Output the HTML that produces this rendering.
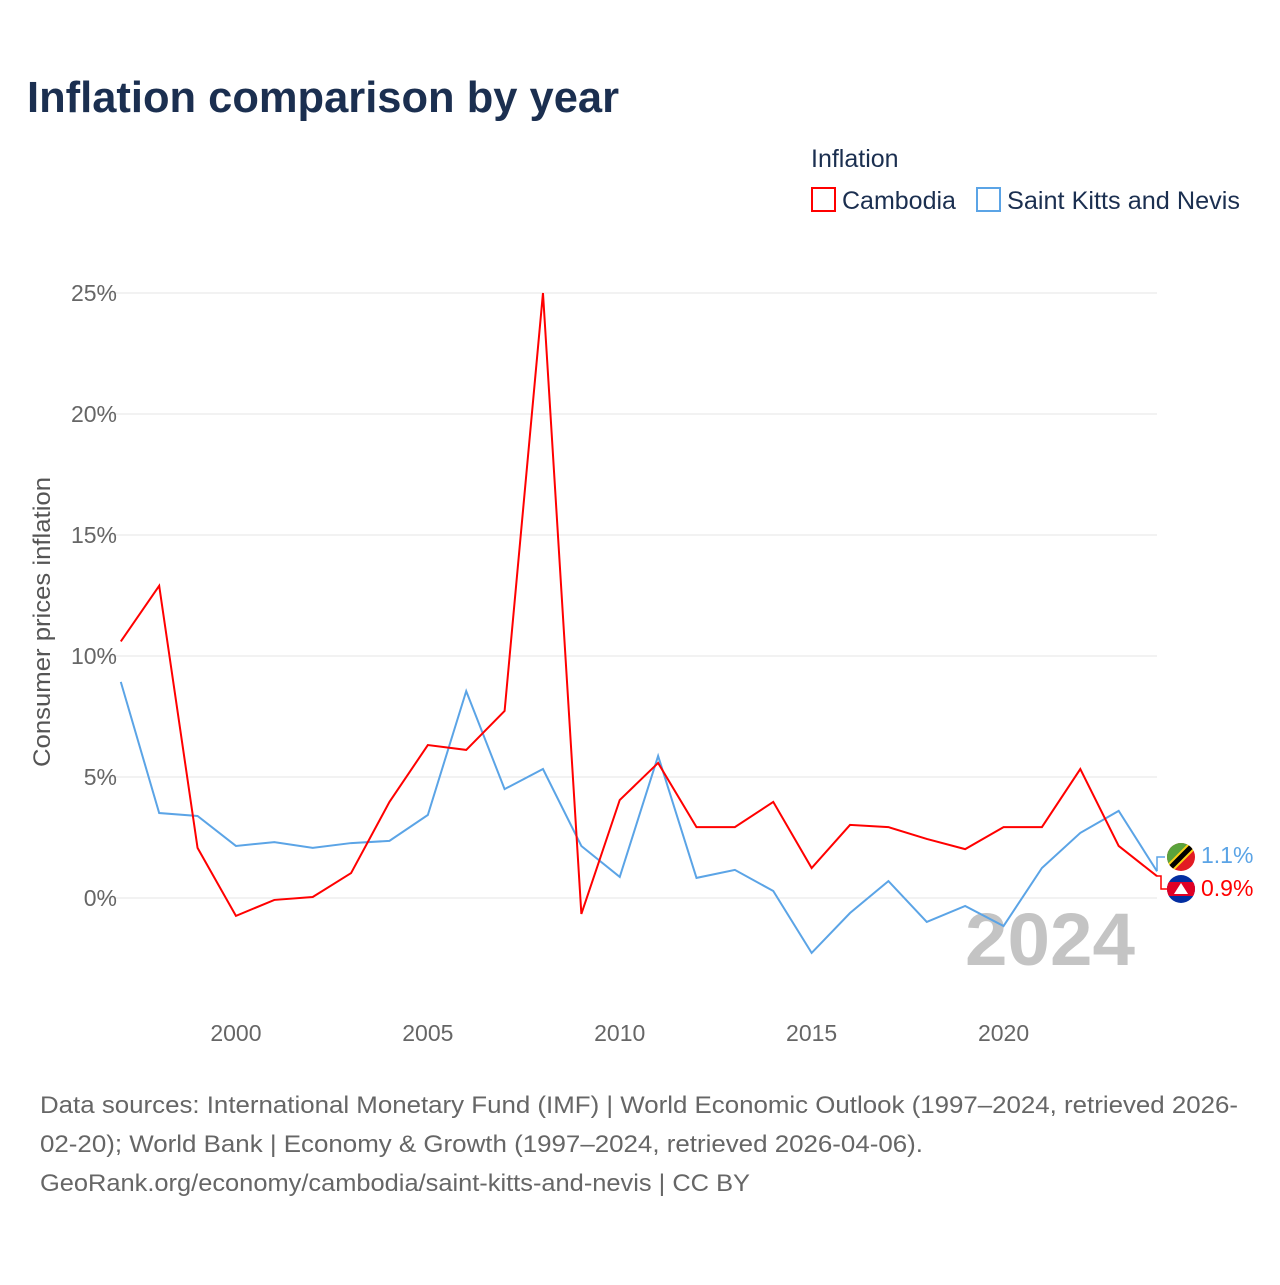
<!DOCTYPE html>
<html><head><meta charset="utf-8"><style>
body{margin:0;background:#fff;font-family:"Liberation Sans",sans-serif}
svg text{font-family:"Liberation Sans",sans-serif}
</style></head><body>
<svg width="1280" height="1280" viewBox="0 0 1280 1280" xmlns="http://www.w3.org/2000/svg">
<rect width="1280" height="1280" fill="#fff"/>
<text x="27" y="112" font-size="44" font-weight="bold" fill="#1b2f50" textLength="592" lengthAdjust="spacingAndGlyphs">Inflation comparison by year</text>
<text x="811" y="167" font-size="25" fill="#1b2f50">Inflation</text>
<g><rect x="812" y="188" width="23" height="23" fill="none" stroke="#f00" stroke-width="2"/><text x="842" y="209" font-size="25" fill="#1b2f50">Cambodia</text></g>
<g><rect x="977" y="188" width="23" height="23" fill="none" stroke="#5ba4e6" stroke-width="2"/><text x="1007" y="209" font-size="25" fill="#1b2f50" textLength="233" lengthAdjust="spacingAndGlyphs">Saint Kitts and Nevis</text></g>
<g id="grid"></g><g id="axes"></g>
<text transform="translate(50,622) rotate(-90)" text-anchor="middle" font-size="24" fill="#555" textLength="290" lengthAdjust="spacingAndGlyphs">Consumer prices inflation</text>
<text x="1135" y="965" text-anchor="end" font-size="74" font-weight="bold" fill="#c4c4c4" textLength="170" lengthAdjust="spacingAndGlyphs">2024</text>
<g id="series"></g>
<g>
<polyline points="1157,871 1157,857 1165,857" fill="none" stroke="#5ba4e6" stroke-width="1.5"/>
<polyline points="1157,876 1161,876 1161,889 1167,889" fill="none" stroke="#f00" stroke-width="1.5"/>
<g><clipPath id="c1"><circle cx="1181" cy="857" r="14"/></clipPath><g clip-path="url(#c1)"><rect x="1167" y="843" width="28" height="28" fill="#e21b23"/><polygon points="1167,843 1195,843 1167,871" fill="#5aa33c"/><line x1="1167" y1="871" x2="1195" y2="843" stroke="#fcd116" stroke-width="9"/><line x1="1167" y1="871" x2="1195" y2="843" stroke="#000" stroke-width="5"/></g></g>
<g><clipPath id="c2"><circle cx="1181" cy="889" r="14"/></clipPath><g clip-path="url(#c2)"><rect x="1167" y="875" width="28" height="28" fill="#032ea1"/><rect x="1167" y="882" width="28" height="14" fill="#e00025"/><polygon points="1174,894 1181,883 1188,894" fill="#fff"/></g></g>
<text x="1201" y="863" font-size="23" fill="#5ba4e6">1.1%</text>
<text x="1201" y="896" font-size="23" fill="#f00">0.9%</text>
</g>
<text font-size="24" fill="#666"><tspan x="40" y="1113" textLength="1198" lengthAdjust="spacingAndGlyphs">Data sources: International Monetary Fund (IMF) | World Economic Outlook (1997–2024, retrieved 2026-</tspan><tspan x="40" y="1152" textLength="883" lengthAdjust="spacingAndGlyphs">02-20); World Bank | Economy &amp; Growth (1997–2024, retrieved 2026-04-06).</tspan><tspan x="40" y="1191" textLength="710" lengthAdjust="spacingAndGlyphs">GeoRank.org/economy/cambodia/saint-kitts-and-nevis | CC BY</tspan></text>
</svg>
<script>
const years=[1997,1998,1999,2000,2001,2002,2003,2004,2005,2006,2007,2008,2009,2010,2011,2012,2013,2014,2015,2016,2017,2018,2019,2020,2021,2022,2023,2024];
const cambodia=[10.6,12.9,2.07,-0.74,-0.08,0.04,1.03,3.97,6.32,6.12,7.73,25.0,-0.66,4.05,5.58,2.93,2.93,3.97,1.24,3.02,2.93,2.44,2.02,2.93,2.93,5.33,2.15,0.9];
const saintKitts=[8.93,3.51,3.39,2.15,2.31,2.07,2.27,2.36,3.43,8.55,4.5,5.33,2.15,0.87,5.87,0.83,1.16,0.29,-2.27,-0.62,0.7,-0.99,-0.33,-1.16,1.24,2.69,3.6,1.1];
const yTicks=[0,5,10,15,20,25];
const xTicks=[2000,2005,2010,2015,2020];
const NS="http://www.w3.org/2000/svg";
const xs=y=>120.8+(y-1997)*38.38;
const ys=v=>898-v*24.2;
function mk(t,a,p){const e=document.createElementNS(NS,t);for(const k in a)e.setAttribute(k,a[k]);p.appendChild(e);return e;}
const grid=document.getElementById('grid'),axes=document.getElementById('axes'),series=document.getElementById('series');
yTicks.forEach(v=>{
 const l=mk('line',{x1:97,x2:1157,y1:ys(v),y2:ys(v),stroke:'#e6e6e6','stroke-width':1},grid);
 
 
 const t=mk('text',{x:117,y:ys(v)+8,'text-anchor':'end','font-size':23,fill:'#666'},axes);
 t.textContent=v+'%';
 
 
});
xTicks.forEach(v=>{
 const t=mk('text',{x:xs(v),y:1041,'text-anchor':'middle','font-size':23,fill:'#666'},axes);
 t.textContent=v;
 
 
});
function line(d,c,n){
 const p=mk('polyline',{points:d.map((v,i)=>xs(years[i])+','+ys(v)).join(' '),fill:'none',stroke:c,'stroke-width':2,'stroke-linejoin':'miter'},series);
 
 
}
line(saintKitts,'#5ba4e6','saint-kitts-line');
line(cambodia,'#f00','cambodia-line');
</script>
</body></html>
